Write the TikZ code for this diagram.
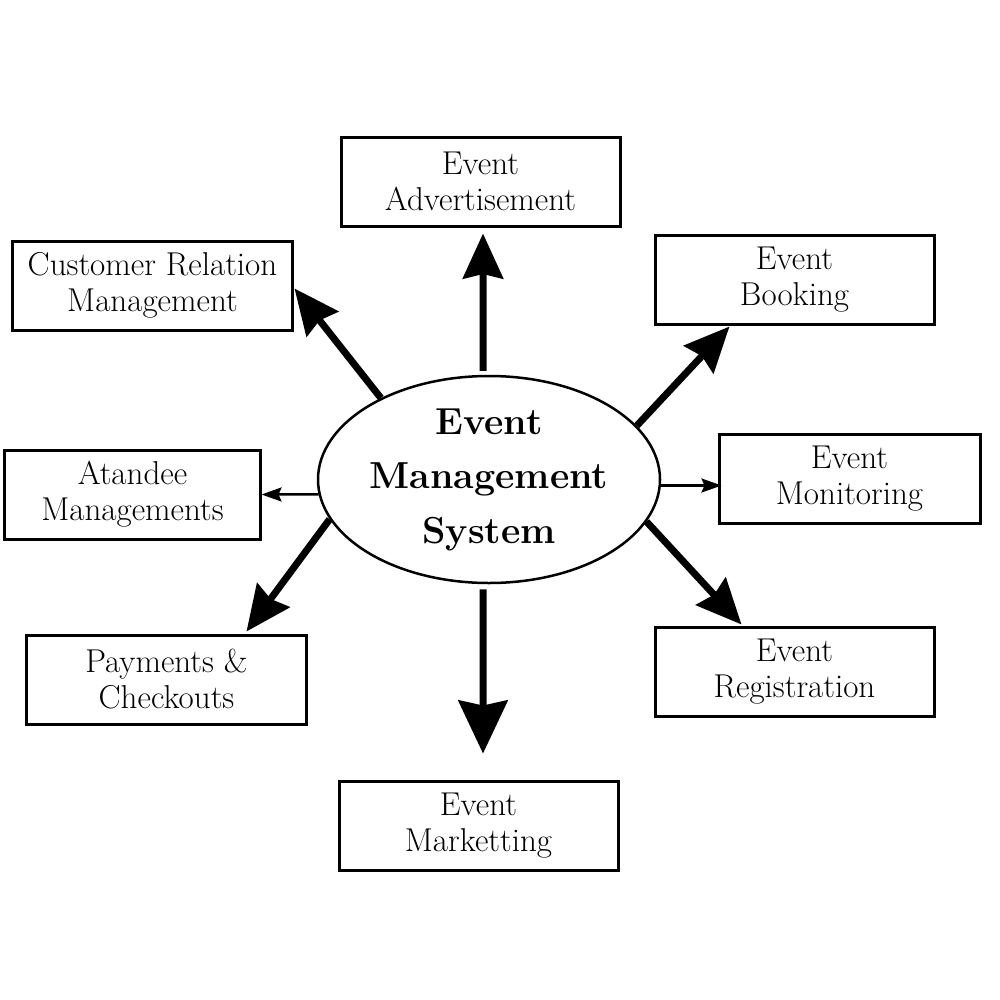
\documentclass[tikz,border=0pt]{standalone}
\usepackage{tikz}
\usetikzlibrary{calc,arrows.meta,shapes.geometric}
\tikzset{
  module/.style={draw, line width=0.6mm, minimum width=55.8mm, minimum height=17.8mm, inner sep=0pt, align=center, font=\fontsize{18.8}{20.5}\selectfont},
  core/.style={draw, ellipse, line width=0.5mm, minimum width=68.4mm, minimum height=41.4mm, inner sep=0pt, align=center, font=\fontsize{21.4}{31}\selectfont\bfseries},
  bigarrow/.style={line width=1.4mm, -{Stealth[length=9mm, width=8mm, inset=0.9mm]}},
  thinarrow/.style={line width=0.5mm, -{Stealth[length=4mm, width=2.8mm, inset=0.6mm]}}
}

\begin{document}
\begin{tikzpicture}[x=0.2mm, y=-0.2mm]
				\useasboundingbox (0,0) rectangle (1000,1000);
				
				% centre
				\node[core] (ems) at (489,479.5) {Event\\Management\\System};
				
				% modules
				\node[module] (adv) at (480.5,181.5) {Event\\Advertisement};
				\node[module] (book) at (794.5,279.5) {Event\\Booking};
				\node[module] (crm) at (152.5,285.5) {Customer Relation\\Management};
				\node[module, minimum width=51mm] (att) at (132.5,494.5) {Atandee\\Managements};
				\node[module, minimum width=52.2mm] (mon) at (849.5,478.5) {Event\\Monitoring};
				\node[module] (pay) at (166.5,679.5) {Payments \&\\Checkouts};
				\node[module] (reg) at (794.5,671.5) {Event\\Registration};
				\node[module] (mkt) at (478.5,825.5) {Event\\Marketting};
				
				% arrows
				\draw[bigarrow] ($(ems.north)+(-6,-4)$) -- ($(adv.south)+(2.5,6)$);
				\draw[bigarrow] (ems.20) -- ($(book.south west)+(76,1)$);
				\draw[bigarrow] (ems.143) -- ($(crm.east)+(1,3)$);
				\draw[thinarrow] (ems.185) -- (att.east);
				\draw[thinarrow] (ems.-2) -- ($(ems.-2 -| mon.west)+(4,0)$);
				\draw[bigarrow] (ems.194) -- ($(pay.north west)+(221,-2)$);
				\draw[bigarrow] (ems.-15) -- ($(reg.north west)+(88,-1)$);
				\draw[bigarrow, -{Stealth[length=10.6mm, width=9.8mm, inset=1mm]}] ($(ems.south)+(-6,5)$) -- ($(mkt.north)+(4.5,-26)$);
			\end{tikzpicture}
\end{document}
